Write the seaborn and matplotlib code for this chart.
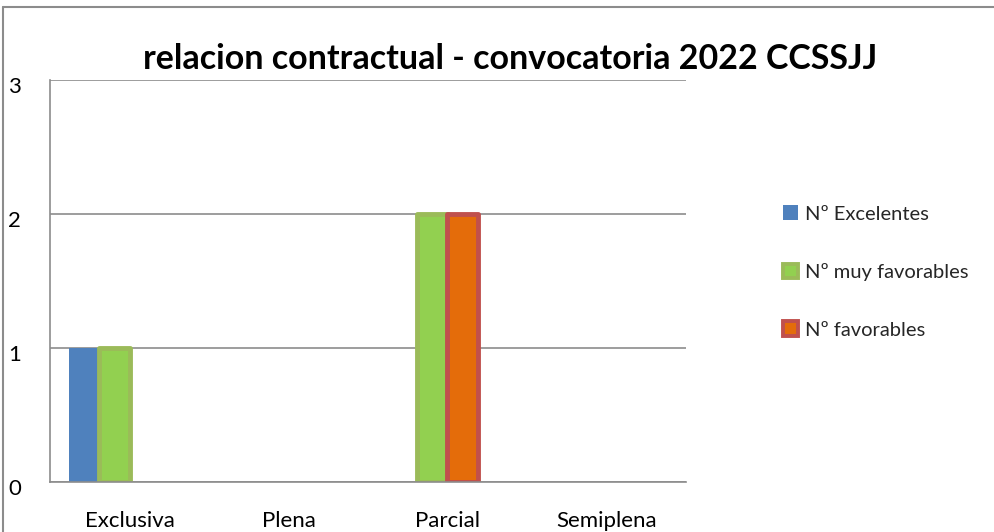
import matplotlib
matplotlib.use('Agg')
import matplotlib.pyplot as plt
import matplotlib.transforms as mtransforms
from matplotlib.lines import Line2D
from matplotlib.patches import Rectangle
import seaborn as sns
import pandas as pd

# ─── Data ─────────────────────────────────────────────────────────────
categorias = ['Exclusiva', 'Plena', 'Parcial', 'Semiplena']
series = ['Nº Excelentes', 'Nº muy favorables', 'Nº favorables']
excelentes = [1, 0, 0, 0]
muy_favorables = [1, 0, 2, 0]
favorables = [0, 0, 2, 0]
# the original chart keeps room for a fourth, empty series (not in legend)
vacia = [0, 0, 0, 0]

fills = ['#4F81BD', '#92D050', '#E46C0A', '#FFFFFF']
edges = ['#4F81BD', '#9BBB59', '#C0504D', '#FFFFFF']
edge_w = [0, 3.5, 3.5, 0]

rows = []
for s, vals in zip(series + [' '], [excelentes, muy_favorables, favorables, vacia]):
    for c, v in zip(categorias, vals):
        rows.append({'categoria': c, 'serie': s, 'valor': v})
df = pd.DataFrame(rows)

sns.set_style('white')
plt.rcParams['font.family'] = ['Lato', 'DejaVu Sans']

fig = plt.figure(figsize=(9.94, 5.32), dpi=100)
ax = fig.add_axes([50 / 994, 50 / 532, 636 / 994, 402 / 532])

sns.barplot(data=df, x='categoria', y='valor', hue='serie', order=categorias,
            hue_order=series + [' '], palette=fills, width=0.755, saturation=1,
            ax=ax, legend=False)

handles = []
for i, cont in enumerate(ax.containers):
    for bar in cont:
        if bar.get_height() > 0:
            bar.set_edgecolor(edges[i])
            bar.set_linewidth(edge_w[i])
            bar.set_joinstyle('round')
        else:
            bar.set_linewidth(0)
    if i < len(series):
        handles.append(Rectangle((0, 0), 1, 1, facecolor=fills[i], edgecolor=edges[i],
                                 linewidth=edge_w[i] * 0.8, label=series[i]))

ax.set_ylim(0, 3)
ax.set_yticks([0, 1, 2, 3])
ax.set_xlabel('')
ax.set_ylabel('')
ax.yaxis.grid(True, color='#8C8C8C', linewidth=1.2)
ax.set_axisbelow(True)
for side in ['top', 'right']:
    ax.spines[side].set_visible(False)
for side in ['left', 'bottom']:
    ax.spines[side].set_color('#8C8C8C')
    ax.spines[side].set_linewidth(1.2)

ax.tick_params(axis='y', length=0, pad=0, labelsize=16, labelcolor='black')
ax.tick_params(axis='x', length=0, pad=21, labelsize=16, labelcolor='black')
for lbl in ax.get_yticklabels():
    lbl.set_horizontalalignment('left')
    lbl.set_transform(lbl.get_transform() +
                      mtransforms.ScaledTranslation(-0.42, -0.05, fig.dpi_scale_trans))

fig.suptitle('relacion contractual - convocatoria 2022 CCSSJJ', x=0.513, y=0.92,
             fontsize=24.5, fontweight='bold', color='black')

fig.legend(handles=handles, loc='center left', bbox_to_anchor=(765 / 994, 260 / 532),
           frameon=False, fontsize=14.5, labelspacing=2.0, handlelength=0.75,
           handleheight=0.75, handletextpad=0.35)

# outer chart border
fig.add_artist(Line2D([3 / 994, 3 / 994], [0, 1 - 7 / 532], transform=fig.transFigure,
                      color='#8C8C8C', linewidth=1.5))
fig.add_artist(Line2D([3 / 994, 1], [1 - 7 / 532, 1 - 7 / 532], transform=fig.transFigure,
                      color='#8C8C8C', linewidth=1.5))

fig.savefig('out.png', dpi=100, facecolor='white')
